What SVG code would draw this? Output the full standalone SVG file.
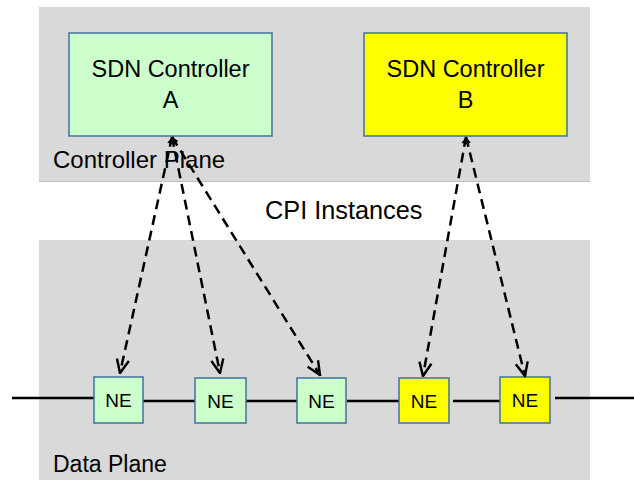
<svg xmlns="http://www.w3.org/2000/svg" width="634" height="480" viewBox="0 0 634 480">
<style>
.plane{fill:#D9D9D9;}
.ctrl{stroke:#41719C;stroke-width:1.5;}
.ne{stroke:#41719C;stroke-width:1.5;}
.green{fill:#CCFFCC;}
.yellow{fill:#FFFF00;}
text{font-family:"Liberation Sans",Arial,sans-serif;fill:#000;}
.big{font-size:23.5px;}
.netxt{font-size:19px;}
.link{stroke:#000;stroke-width:2.5;fill:none;}
.cpi{stroke:#000;stroke-width:2.5;fill:none;stroke-dasharray:10 6;marker-start:url(#tip);marker-end:url(#arr);}
</style>
<defs>
<marker id="arr" viewBox="0 0 12 12" refX="11" refY="6" markerWidth="6.5" markerHeight="6.5" orient="auto-start-reverse" markerUnits="strokeWidth">
<path d="M1,1.5 L11,6 L1,10.5" fill="none" stroke="#000" stroke-width="1.8"/>
</marker>
<marker id="tip" viewBox="0 0 12 12" refX="11" refY="6" markerWidth="3.2" markerHeight="3.2" orient="auto-start-reverse" markerUnits="strokeWidth">
<path d="M1,1 L11,6 L1,11 Z" fill="#000"/>
</marker>
</defs>
<g id="controller-plane">
<rect class="plane" x="39" y="7" width="551" height="175"/>
<line x1="39" y1="181.5" x2="590" y2="181.5" stroke="#BFBFBF" stroke-width="1"/>
<text x="53" y="168" font-size="24px">Controller Plane</text>
</g>
<g id="data-plane">
<rect class="plane" x="39" y="240" width="551" height="240"/>
<text x="53" y="472" font-size="23px">Data Plane</text>
</g>
<g id="cpi-label">
<text x="265" y="219" font-size="25.3px">CPI Instances</text>
</g>
<g id="links">
<line class="link" x1="12" y1="398" x2="94" y2="398"/>
<line class="link" x1="143" y1="401" x2="195" y2="401"/>
<line class="link" x1="246" y1="401" x2="297" y2="401"/>
<line class="link" x1="347" y1="401" x2="399" y2="401"/>
<line class="link" x1="453" y1="401" x2="500" y2="401"/>
<line class="link" x1="555" y1="398" x2="634" y2="398"/>
</g>
<g id="controller-a">
<rect class="ctrl green" x="69" y="33" width="203" height="103"/>
<text class="big" x="170.5" y="77" text-anchor="middle">SDN Controller</text>
<text class="big" x="170.5" y="108" text-anchor="middle">A</text>
</g>
<g id="controller-b">
<rect class="ctrl yellow" x="364" y="33" width="203" height="103"/>
<text class="big" x="465.5" y="77" text-anchor="middle">SDN Controller</text>
<text class="big" x="465.5" y="108" text-anchor="middle">B</text>
</g>
<g id="ne1">
<rect class="ne green" x="94" y="377" width="49" height="46"/>
<text class="netxt" x="118.5" y="407" text-anchor="middle">NE</text>
</g>
<g id="ne2">
<rect class="ne green" x="195" y="378" width="51" height="45"/>
<text class="netxt" x="220.5" y="408" text-anchor="middle">NE</text>
</g>
<g id="ne3">
<rect class="ne green" x="297" y="378" width="49" height="45"/>
<text class="netxt" x="321.5" y="408" text-anchor="middle">NE</text>
</g>
<g id="ne4">
<rect class="ne yellow" x="399" y="378" width="50" height="45"/>
<text class="netxt" x="424" y="408" text-anchor="middle">NE</text>
</g>
<g id="ne5">
<rect class="ne yellow" x="500" y="377" width="50" height="46"/>
<text class="netxt" x="525" y="407" text-anchor="middle">NE</text>
</g>
<g id="connectors">
<line class="cpi" x1="172" y1="137" x2="120" y2="373"/>
<line class="cpi" x1="172" y1="137" x2="220" y2="373"/>
<line class="cpi" x1="172" y1="137" x2="320" y2="375"/>
<line class="cpi" x1="466" y1="137" x2="423" y2="376"/>
<line class="cpi" x1="466" y1="137" x2="525" y2="376"/>
</g>
</svg>
